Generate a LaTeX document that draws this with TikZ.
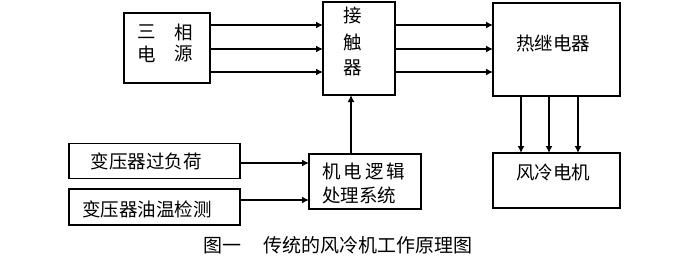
\documentclass[tikz,border=0pt]{standalone}
\usepackage{fontspec}
\setmainfont{Noto Sans CJK SC}
\usetikzlibrary{arrows.meta}
\begin{document}
\begin{tikzpicture}[x=1pt,y=-1pt,
  box/.style={draw, line width=1.4pt, inner sep=0pt, outer sep=0pt},
  lbl/.style={inner sep=0pt, font=\fontsize{18.5}{22}\selectfont},
  captext/.style={inner sep=0pt, font=\fontsize{19}{22}\selectfont},
  arr/.style={line width=1.4pt, -{Latex[length=7pt,width=7pt]}}]
\useasboundingbox (0,0) rectangle (674,257);
% boxes
\node[box, minimum width=86pt, minimum height=70pt] (src) at (167,48) {};
\node[box, minimum width=72pt, minimum height=93pt] (ktr) at (359,48.5) {};
\node[box, minimum width=127pt, minimum height=93pt] (rly) at (556.5,49.5) {};
\node[box, minimum width=127pt, minimum height=55pt] (mot) at (556.5,180.5) {};
\node[box, minimum width=171pt, minimum height=35pt] (ovl) at (154.5,161) {};
\node[box, minimum width=171pt, minimum height=36pt] (oil) at (154.5,207) {};
\node[box, minimum width=112pt, minimum height=55pt] (log) at (365,181.5) {};
% texts
\node[lbl] (t1) at (147,32) {三};
\node[lbl] (t2) at (184,32) {相};
\node[lbl] (t3) at (147,54) {电};
\node[lbl] (t4) at (184,54) {源};
\node[lbl] (k1) at (353,15) {接};
\node[lbl] (k2) at (353,42) {触};
\node[lbl] (k3) at (353,68) {器};
\node[lbl] (rt) at (553,43) {热继电器};
\node[lbl] (mt) at (553,172) {风冷电机};
\node[lbl] (ot) at (146,161) {变压器过负荷};
\node[lbl] (it) at (147,209) {变压器油温检测};
\node[lbl, anchor=west] (l1) at (322,171) {机\hspace{3pt}电\hspace{3pt}逻\hspace{3pt}辑};
\node[lbl, anchor=west] (l2) at (322,195) {处理系统};
\node[captext] (caption) at (338,245) {图一\hspace{1.2em}传统的风冷机工作原理图};
% arrows
\foreach \y in {25,49,72} {
  \draw[arr] (src.east |- 0,\y) -- (ktr.west |- 0,\y);
  \draw[arr] (ktr.east |- 0,\y) -- (rly.west |- 0,\y);
}
\foreach \x in {521,549,578} {
  \draw[arr] (rly.south -| \x,0) -- (mot.north -| \x,0);
}
\draw[arr] (log.north -| 351,0) -- (ktr.south -| 351,0);
\draw[arr] (ovl.east |- 0,163) -- (log.west |- 0,163);
\draw[arr] (oil.east |- 0,200) -- (log.west |- 0,200);
\end{tikzpicture}
\end{document}
